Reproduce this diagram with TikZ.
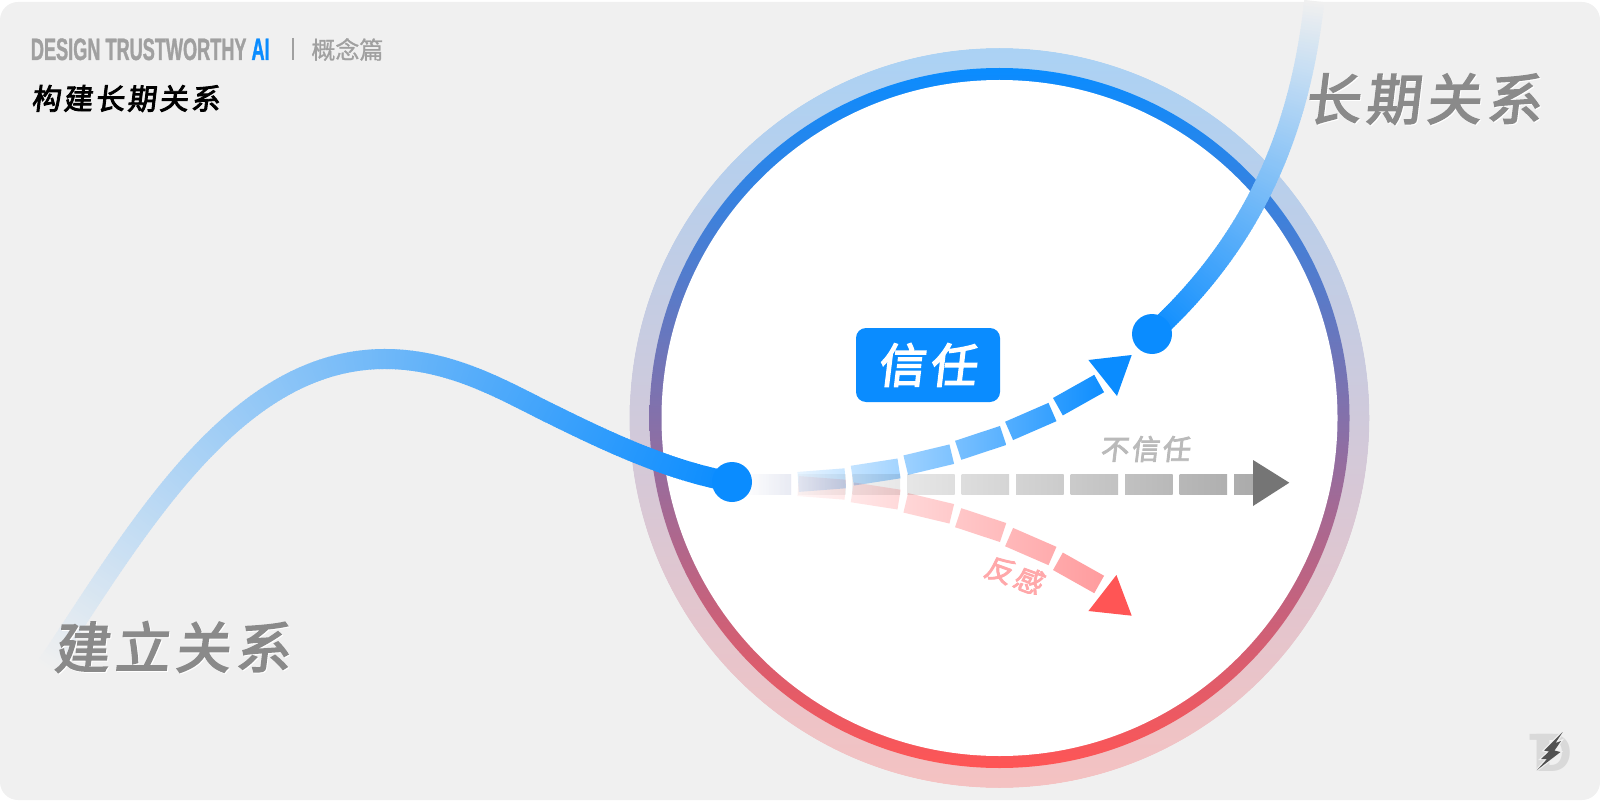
\documentclass[tikz,border=0pt]{standalone}
\usepackage{fontspec}
\usepackage{xcolor}
\usepackage{tikz}
\usetikzlibrary{decorations.markings}
\newfontfamily\cjkslant[FakeSlant=0.12,LetterSpace=10,FakeBold=3]{Noto Sans CJK SC}
\newfontfamily\cjkplain[FakeBold=1]{Noto Sans CJK SC}
\newfontfamily\brandfont[FakeStretch=0.585,FakeBold=1]{Liberation Sans}
\newfontfamily\logofont{Liberation Sans}
\definecolor{paper}{HTML}{F0F0F0}
\definecolor{trustblue}{HTML}{0A8CFF}
\definecolor{dislikered}{HTML}{FF5555}
\definecolor{dislikebar}{HTML}{FF9A9C}
\definecolor{dislikeword}{HTML}{FFA8AA}
\definecolor{graybar}{HTML}{ABABAB}
\definecolor{titlegray}{HTML}{8A8A8A}
\definecolor{brandgray}{HTML}{A0A0A0}
\tikzset{
  solidramp/.style={decorate, decoration={markings, mark=between positions 0 and 1 step 1.5pt with {
    \pgfmathsetmacro{\ramp}{100*(\pgfkeysvalueof{/pgf/decoration/mark info/distance from start}/\pgfdecoratedpathlength)}
    \fill[trustblue!\ramp!paper] (-1pt,-5pt) rectangle (1pt,5pt);
  }}},
  dashramp/.style={decorate, decoration={markings, mark=between positions 0 and 1 step 27.25pt with {
    \pgfmathsetmacro{\travel}{\pgfkeysvalueof{/pgf/decoration/mark info/distance from start}/1pt}
    \pgfmathsetmacro{\total}{\pgfdecoratedpathlength/1pt}
    \pgfmathsetmacro{\piece}{min(23.65,\total-\travel)}
    \pgfmathsetmacro{\rampa}{100*(max(0,\travel-10)/(\total-10))}
    \pgfmathsetmacro{\rampb}{100*((\travel+\piece-10)/(\total-10))}
    \shade[left color=#1!\rampa!white, right color=#1!\rampb!white] (0pt,-5pt) rectangle (\piece pt,5pt);
  }}},
  flowdot/.style={circle, fill=trustblue, inner sep=0pt, minimum size=20pt},
  bigtitle/.style={inner sep=0pt, text=titlegray, font=\cjkslant\fontsize{27.5}{30}\selectfont},
  smalltag/.style={inner sep=0pt, font=\cjkslant\fontsize{14}{16}\selectfont},
  brandtext/.style={inner sep=0pt, anchor=base west, font=\brandfont\bfseries\fontsize{15.5}{18}\selectfont},
  logotext/.style={inner sep=0pt, anchor=base west, text=black!15, font=\logofont\bfseries\fontsize{27}{27}\selectfont}
}
\begin{document}
\begin{tikzpicture}[x=0.5pt, y=-0.5pt]
  \useasboundingbox (0,0) rectangle (1600,802);
  \fill[paper, rounded corners=9pt] (0,2) rectangle (1600,800);

  % rings
  \begin{scope}
    \clip (999.5,418) circle[radius=370];
    \shade[top color=trustblue!30!paper, bottom color=dislikered!30!paper] (600,48) rectangle (1400,788);
    \clip (999.5,418) circle[radius=350];
    \shade[top color=trustblue, bottom color=dislikered] (600,68) rectangle (1400,768);
  \end{scope}
  \draw[paper, line width=1pt] (999.5,418) circle[radius=371];
  \fill[white] (999.5,418) circle[radius=338];

  % long curves
  \path[solidramp] (46,667) .. controls (138,528) and (235,359) .. (385,359)
    .. controls (450,359) and (503,390) .. (546.7,411.7)
    .. controls (600,438) and (665,470) .. (732,482);
  \path[solidramp] (1314,3) .. controls (1300,130) and (1255,240) .. (1152,334);

  % three outcomes
  \begin{scope}[blend mode=multiply]
    \path[dashramp=dislikebar] (743.7,484) .. controls (880,484) and (1010,523) .. (1103,590);
    \path[dashramp=graybar] (743.7,484) -- (1253,484);
    \path[dashramp=trustblue] (743.7,484) .. controls (880,484) and (1010,445) .. (1103,378);
  \end{scope}
  \fill[trustblue] (1088.4,360) -- (1131.7,355) -- (1117,396) -- cycle;
  \fill[dislikered] (1088.4,611) -- (1131.7,615.7) -- (1116.4,575) -- cycle;
  \fill[black!54] (1253,460) -- (1289.3,482.7) -- (1253,506) -- cycle;

  \node[flowdot] (startdot) at (732,482) {};
  \node[flowdot] (trustdot) at (1152,334) {};

  % labels
  \node[fill=trustblue, rounded corners=5pt, minimum width=72pt, minimum height=37pt, inner sep=0pt] (trustbox) at (928,365) {};
  \node[inner sep=0pt, text=white, font=\cjkslant\fontsize{23.5}{26}\selectfont] (trustlabel) at (927,365) {信任};
  \node[smalltag, text=black!27] (distrust) at (1145,449) {不信任};
  \node[smalltag, text=dislikeword, rotate=-20] (dislike) at (1014,575) {反感};

  \node[bigtitle, white] (startshade) at (173,648) {建立关系};
  \node[bigtitle] (starttitle) at (172,647) {建立关系};
  \node[bigtitle, white] (longshade) at (1424,100) {长期关系};
  \node[bigtitle] (longtitle) at (1423,99) {长期关系};

  % header
  \node[brandtext, text=brandgray] (brand) at (30.5,60) {DESIGN TRUSTWORTHY \textcolor{trustblue}{AI}};
  \draw[brandgray, line width=1pt] (293,38) -- (293,60);
  \node[inner sep=0pt, anchor=west, text=brandgray, font=\cjkplain\fontsize{12}{14}\selectfont] (part) at (311,49.5) {概念篇};
  \node[inner sep=0pt, anchor=west, text=black, font=\cjkslant\fontsize{14.5}{18}\selectfont] (pagetitle) at (31,98.5) {构建长期关系};

  % logo
  \node[logotext] (logot) at (1529,771) {T};
  \node[logotext] (logod) at (1533,771) {D};
  \path[preaction={draw=paper, line width=1.2pt}, fill=black!68] (1562.7,732) -- (1544,750.5) -- (1549,751.5) -- (1541,759)
    -- (1547,759) -- (1537,770) -- (1560.5,752) -- (1554.5,750.5) -- (1561,741) -- (1555.5,743) -- cycle;
\end{tikzpicture}
\end{document}
